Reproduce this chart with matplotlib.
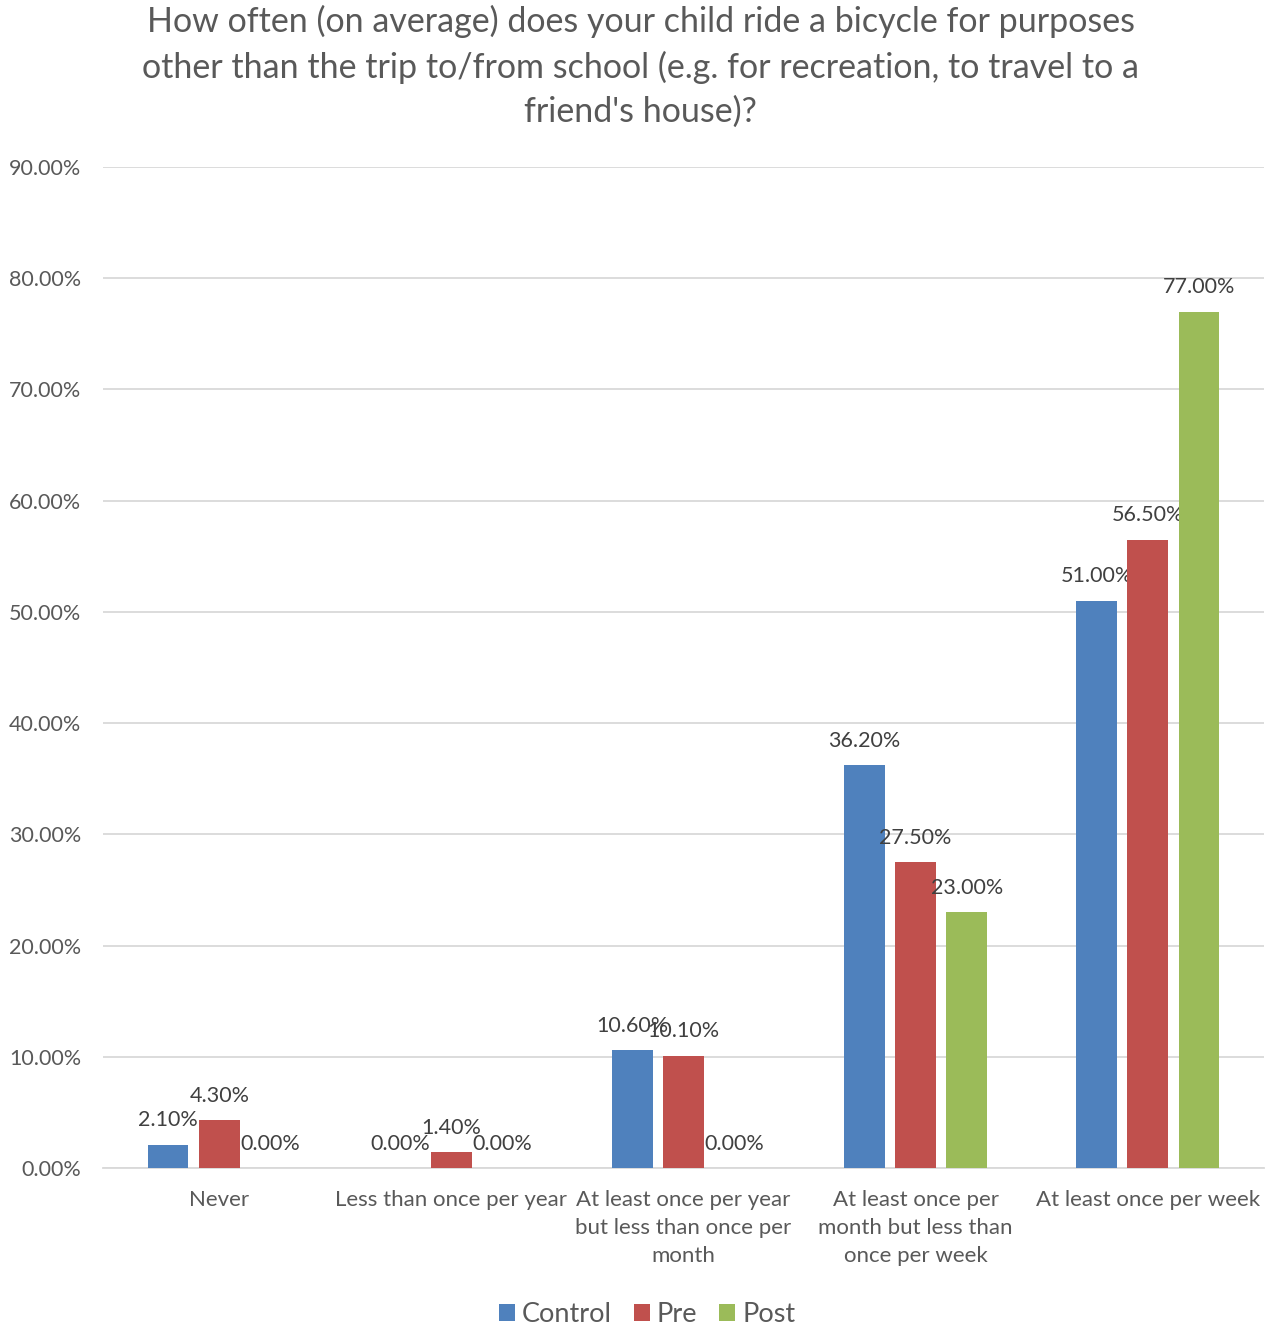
import matplotlib
matplotlib.use('Agg')
import matplotlib.pyplot as plt
import numpy as np

plt.rcParams['font.family'] = ['Lato', 'DejaVu Sans']

categories = ['Never', 'Less than once per year',
              'At least once per year\nbut less than once per\nmonth',
              'At least once per\nmonth but less than\nonce per week',
              'At least once per week']
series = ['Control', 'Pre', 'Post']
control = [2.1, 0.0, 10.6, 36.2, 51.0]
pre = [4.3, 1.4, 10.1, 27.5, 56.5]
post = [0.0, 0.0, 0.0, 23.0, 77.0]
colors = ['#4f81bd', '#c0504d', '#9bbb59']
title = ("How often (on average) does your child ride a bicycle for purposes\n"
         "other than the trip to/from school (e.g. for recreation, to travel to a\n"
         "friend's house)?")

text_col = '#595959'
fig = plt.figure(figsize=(12.74, 13.25), dpi=100)
ax = fig.add_axes([0.081, 0.1185, 0.911, 0.7555])

x = np.arange(len(categories))
offsets = [-0.22, 0.0, 0.22]
width = 0.175
for vals, name, col, off in zip([control, pre, post], series, colors, offsets):
    ax.bar(x + off, vals, width, color=col, label=name, zorder=3)
    for xi, v in zip(x + off, vals):
        ax.annotate(f'{v:.2f}%', (xi, v), xytext=(0, 17.5), textcoords='offset points',
                    ha='center', va='center', fontsize=15.5, color='#404040')

ax.set_xlim(-0.5, len(categories) - 0.5)
ax.set_ylim(0, 90)
yt = np.arange(0, 91, 10)
ax.set_yticks(yt)
ax.set_yticklabels([f'{v:.2f}%' for v in yt], fontsize=15.5, color=text_col)
ax.set_xticks(x)
ax.set_xticklabels(categories, fontsize=16, color=text_col, linespacing=1.5, va='top')
ax.tick_params(axis='both', length=0)
ax.tick_params(axis='x', pad=16)
ax.tick_params(axis='y', pad=16)
ax.grid(axis='y', color='#d9d9d9', linewidth=1.3, zorder=0)
for s in ['top', 'right', 'left']:
    ax.spines[s].set_visible(False)
ax.spines['bottom'].set_color('#d9d9d9')
ax.spines['bottom'].set_linewidth(1.3)

fig.text(0.503, 0.996, title, ha='center', va='top', fontsize=24.5, color=text_col,
         linespacing=1.46)

fig.legend(loc='lower center', bbox_to_anchor=(0.508, -0.02), ncol=3, frameon=False,
           fontsize=19.5, handlelength=0.6, handleheight=0.6, handletextpad=0.25,
           columnspacing=0.8, labelcolor=text_col)

fig.savefig('out.png', dpi=100)
